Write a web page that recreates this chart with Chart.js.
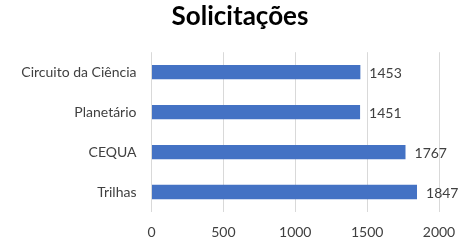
<!DOCTYPE html>
<html>
<head>
<meta charset="utf-8">
<script src="https://cdn.jsdelivr.net/npm/chart.js@4/dist/chart.umd.min.js"></script>
<style>
html,body{margin:0;padding:0;background:#fff;}
#wrap{width:463px;height:247px;}
</style>
</head>
<body>
<div id="wrap"><canvas id="c" width="463" height="247"></canvas></div>
<script>
const titleText = "Solicitações";
const categories = ["Circuito da Ciência", "Planetário", "CEQUA", "Trilhas"];
const values = [1453, 1451, 1767, 1847];
const xTicks = [0, 500, 1000, 1500, 2000];

const FONT = "Lato, 'Open Sans', sans-serif";
const TEXT = "#404040";

const labelPlugin = {
  id: 'barLabels',
  afterDatasetsDraw(chart) {
    const ctx = chart.ctx;
    const meta = chart.getDatasetMeta(0);
    ctx.save();
    ctx.font = "14px " + FONT;
    ctx.fillStyle = TEXT;
    ctx.textAlign = 'left';
    ctx.textBaseline = 'middle';
    meta.data.forEach((bar, i) => {
      ctx.fillText(String(values[i]), bar.x + 9, bar.y + 1);
    });
    ctx.restore();
  }
};

new Chart(document.getElementById('c'), {
  type: 'bar',
  data: {
    labels: categories,
    datasets: [{
      data: values,
      backgroundColor: '#4472C4',
      borderWidth: 0,
      categoryPercentage: 1,
      barPercentage: 0.36
    }]
  },
  options: {
    indexAxis: 'y',
    responsive: false,
    animation: false,
    devicePixelRatio: 1,
    layout: { padding: { left: 17, right: 0, top: 0, bottom: 0 } },
    plugins: {
      legend: { display: false },
      tooltip: { enabled: false },
      title: {
        display: true,
        text: titleText,
        color: '#000',
        font: { family: FONT, size: 26, weight: 'bold' },
        padding: { top: 1, bottom: 20 }
      }
    },
    scales: {
      x: {
        min: 0, max: 2000,
        afterBuildTicks(scale) { scale.ticks = xTicks.map(v => ({ value: v })); },
        afterFit(scale) { scale.height = 35; scale.paddingLeft = 0; scale.paddingRight = 24; },
        grid: { color: '#d9d9d9', lineWidth: 1, drawTicks: false },
        border: { display: false },
        ticks: {
          color: TEXT, font: { family: FONT, size: 14 }, padding: 12,
          callback: (v) => String(v)
        }
      },
      y: {
        afterFit(scale) { scale.width = 134.5; },
        grid: { display: false, drawTicks: false },
        border: { display: false },
        ticks: { color: TEXT, font: { family: FONT, size: 14 }, padding: 15 }
      }
    }
  },
  plugins: [labelPlugin]
});
</script>
</body>
</html>
